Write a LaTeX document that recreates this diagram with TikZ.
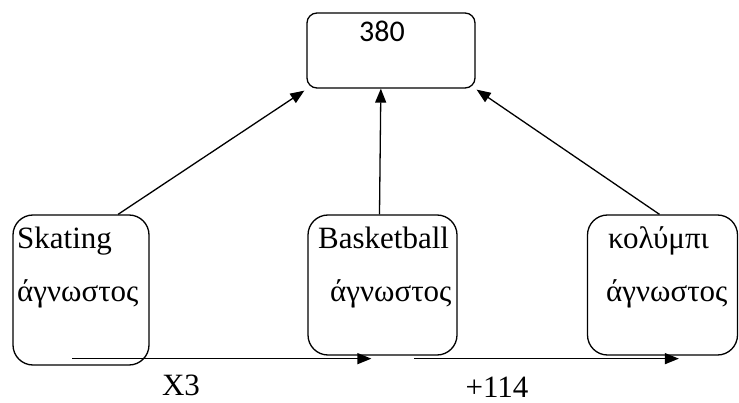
\documentclass[tikz,border=0pt]{standalone}
\usepackage{fontspec}
\setmainfont{Liberation Serif}
\newfontfamily\numfont{Carlito}
\usetikzlibrary{arrows.meta,calc}

\tikzset{
    box/.style={draw, line width=1.3pt, rounded corners=#1, inner sep=0pt},
    box/.default=20pt,
    lbl/.style={anchor=base west, inner sep=0pt, font=\fontsize{31}{36}\selectfont},
    link/.style={line width=1.3pt, -{Triangle[length=14pt,width=11pt]}}
  }

\begin{document}
\begin{tikzpicture}[x=1pt,y=-1pt]
    \useasboundingbox (0,0) rectangle (739,403);

    % target box and the three sports
    \node[box=10pt, minimum width=168pt, minimum height=75pt] (total) at (391,50.5) {};
    \node[box, minimum width=136pt, minimum height=150pt] (skate) at (81,290) {};
    \node[box, minimum width=149pt, minimum height=140pt] (basket) at (382.5,285) {};
    \node[box, minimum width=150pt, minimum height=140pt] (swim) at (662.5,285) {};

    \node[anchor=center, inner sep=0pt, font=\numfont\fontsize{30}{34}\selectfont] (sum) at (382,31) {380};

    \node[lbl] (skname) at (17,249) {Skating};
    \node[lbl] (skunk) at (17,302) {άγνωστος};
    \node[lbl] (bbname) at (318,249) {Basketball};
    \node[lbl] (bbunk) at (330,302) {άγνωστος};
    \node[lbl] (swname) at (608,249) {κολύμπι};
    \node[lbl] (swunk) at (606,302) {άγνωστος};

    % arrows up to the total
    \draw[link] ($(skate.north west)!0.77!(skate.north east)$) -- ($(total.south west)+(-2,2)$);
    \draw[link] ($(basket.north west)!0.48!(basket.north east)$) -- ($(total.south west)!0.44!(total.south east)$);
    \draw[link] ($(swim.north west)!0.48!(swim.north east)$) -- ($(total.south east)+(1,1)$);

    % relations along the bottom
    \coordinate (a1) at ($(skate.south west)+(60,-7)$);
    \coordinate (a2) at ($(basket.south west)+(107,3)$);
    \draw[link] (a1) -- ($(basket.south west |- a1)+(64,0)$);
    \draw[link] (a2) -- ($(swim.south west |- a2)+(92,0)$);

    \node[anchor=center, inner sep=0pt, font=\fontsize{31}{36}\selectfont] (times) at (181,385) {X3};
    \node[anchor=center, inner sep=0pt, font=\fontsize{31}{36}\selectfont] (plus) at (497,387) {+114};
\end{tikzpicture}
\end{document}
